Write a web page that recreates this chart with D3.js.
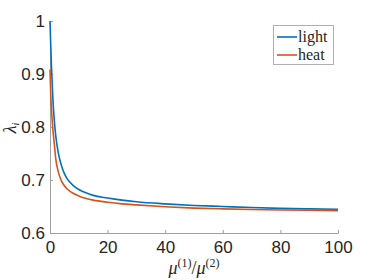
<!DOCTYPE html>
<html>
<head>
<meta charset="utf-8">
<script src="https://cdn.jsdelivr.net/npm/d3@7"></script>
<style>
  body { margin: 0; background: #fff; }
  svg { display: block; }
</style>
</head>
<body>
<svg id="chart" width="374" height="280"></svg>
<script>
// values
const ratio = [0, 0.25, 0.5, 1, 1.5, 2, 3, 4, 5, 6, 8, 10, 12, 15, 20, 25, 30, 40, 50, 60, 70, 80, 90, 100];
const light = [1.000, 0.955, 0.915, 0.853, 0.812, 0.783, 0.748, 0.727, 0.712, 0.702, 0.690, 0.682, 0.677, 0.671, 0.666, 0.662, 0.659, 0.655, 0.652, 0.650, 0.648, 0.6465, 0.6455, 0.6447];
const heat = [0.908, 0.862, 0.835, 0.795, 0.768, 0.740, 0.713, 0.698, 0.689, 0.683, 0.675, 0.670, 0.666, 0.662, 0.658, 0.655, 0.653, 0.6495, 0.647, 0.6455, 0.6444, 0.6435, 0.6428, 0.6422];
const xTicks = [0, 20, 40, 60, 80, 100];
const yTicks = [0.6, 0.7, 0.8, 0.9, 1];
const seriesNames = ["light", "heat"];
const seriesColors = ["#0072BD", "#D95319"];

const svg = d3.select("#chart");
const plotLeft = 50, plotRight = 338, plotTop = 21, plotBottom = 233;

const x = d3.scaleLinear().domain([0, 100]).range([plotLeft, plotRight]);
const y = d3.scaleLinear().domain([0.6, 1]).range([plotBottom, plotTop]);

// axes (MATLAB style, ticks inside)
const xAxis = d3.axisBottom(x).tickValues(xTicks).tickSizeInner(-3).tickSizeOuter(0).tickPadding(8)
  .tickFormat(d3.format("d"));
const yAxis = d3.axisLeft(y).tickValues(yTicks).tickSizeInner(-3).tickSizeOuter(0).tickPadding(5)
  .tickFormat(d => d === 1 ? "1" : d3.format(".1f")(d));

const gx = svg.append("g").attr("transform", `translate(0,${plotBottom})`).call(xAxis);
const gy = svg.append("g").attr("transform", `translate(${plotLeft},0)`).call(yAxis);

[gx, gy].forEach(g => {
  g.select(".domain").attr("stroke", "#a0a0a0").attr("stroke-width", 1);
  g.selectAll(".tick line").attr("stroke", "#a0a0a0");
  g.selectAll(".tick text")
    .attr("fill", "#262626")
    .style("font-family", "'Liberation Sans', Arial, sans-serif")
    .style("font-size", "17px");
});

// curves
const line = d3.line()
  .x((d, i) => x(ratio[i]))
  .y(d => y(d))
  .curve(d3.curveMonotoneX);

[light, heat].forEach((vals, k) => {
  svg.append("path")
    .datum(vals)
    .attr("d", line)
    .attr("fill", "none")
    .attr("stroke", seriesColors[k])
    .attr("stroke-width", 1.6);
});

// axis labels
const serif = "'Liberation Serif', 'DejaVu Serif', serif";
const xl = svg.append("text")
  .attr("x", 194).attr("y", 274)
  .attr("text-anchor", "middle")
  .style("font-family", serif).style("font-size", "18px").attr("fill", "#262626");
xl.append("tspan").style("font-style", "italic").text("μ");
xl.append("tspan").attr("dy", -7).style("font-size", "12px").text("(1)");
xl.append("tspan").attr("dy", 7).text("/");
xl.append("tspan").style("font-style", "italic").text("μ");
xl.append("tspan").attr("dy", -7).style("font-size", "12px").text("(2)");

const yl = svg.append("text")
  .attr("transform", "translate(16,128) rotate(-90)")
  .attr("text-anchor", "middle")
  .style("font-family", serif).style("font-size", "18px").attr("fill", "#262626");
yl.append("tspan").style("font-style", "italic").text("λ");
yl.append("tspan").attr("dy", 3).style("font-size", "10px").style("font-style", "italic").text("i");

// legend
const legend = svg.append("g");
legend.append("rect")
  .attr("x", 273.5).attr("y", 25.5).attr("width", 60).attr("height", 39)
  .attr("fill", "#fff").attr("stroke", "#b0b0b0").attr("stroke-width", 1);
seriesNames.forEach((name, k) => {
  const ly = 37 + k * 18;
  legend.append("line")
    .attr("x1", 277).attr("x2", 297).attr("y1", ly).attr("y2", ly)
    .attr("stroke", seriesColors[k]).attr("stroke-width", 1.6);
  legend.append("text")
    .attr("x", 298).attr("y", ly + 5)
    .style("font-family", serif).style("font-size", "16px").attr("fill", "#262626")
    .text(name);
});
</script>
</body>
</html>
